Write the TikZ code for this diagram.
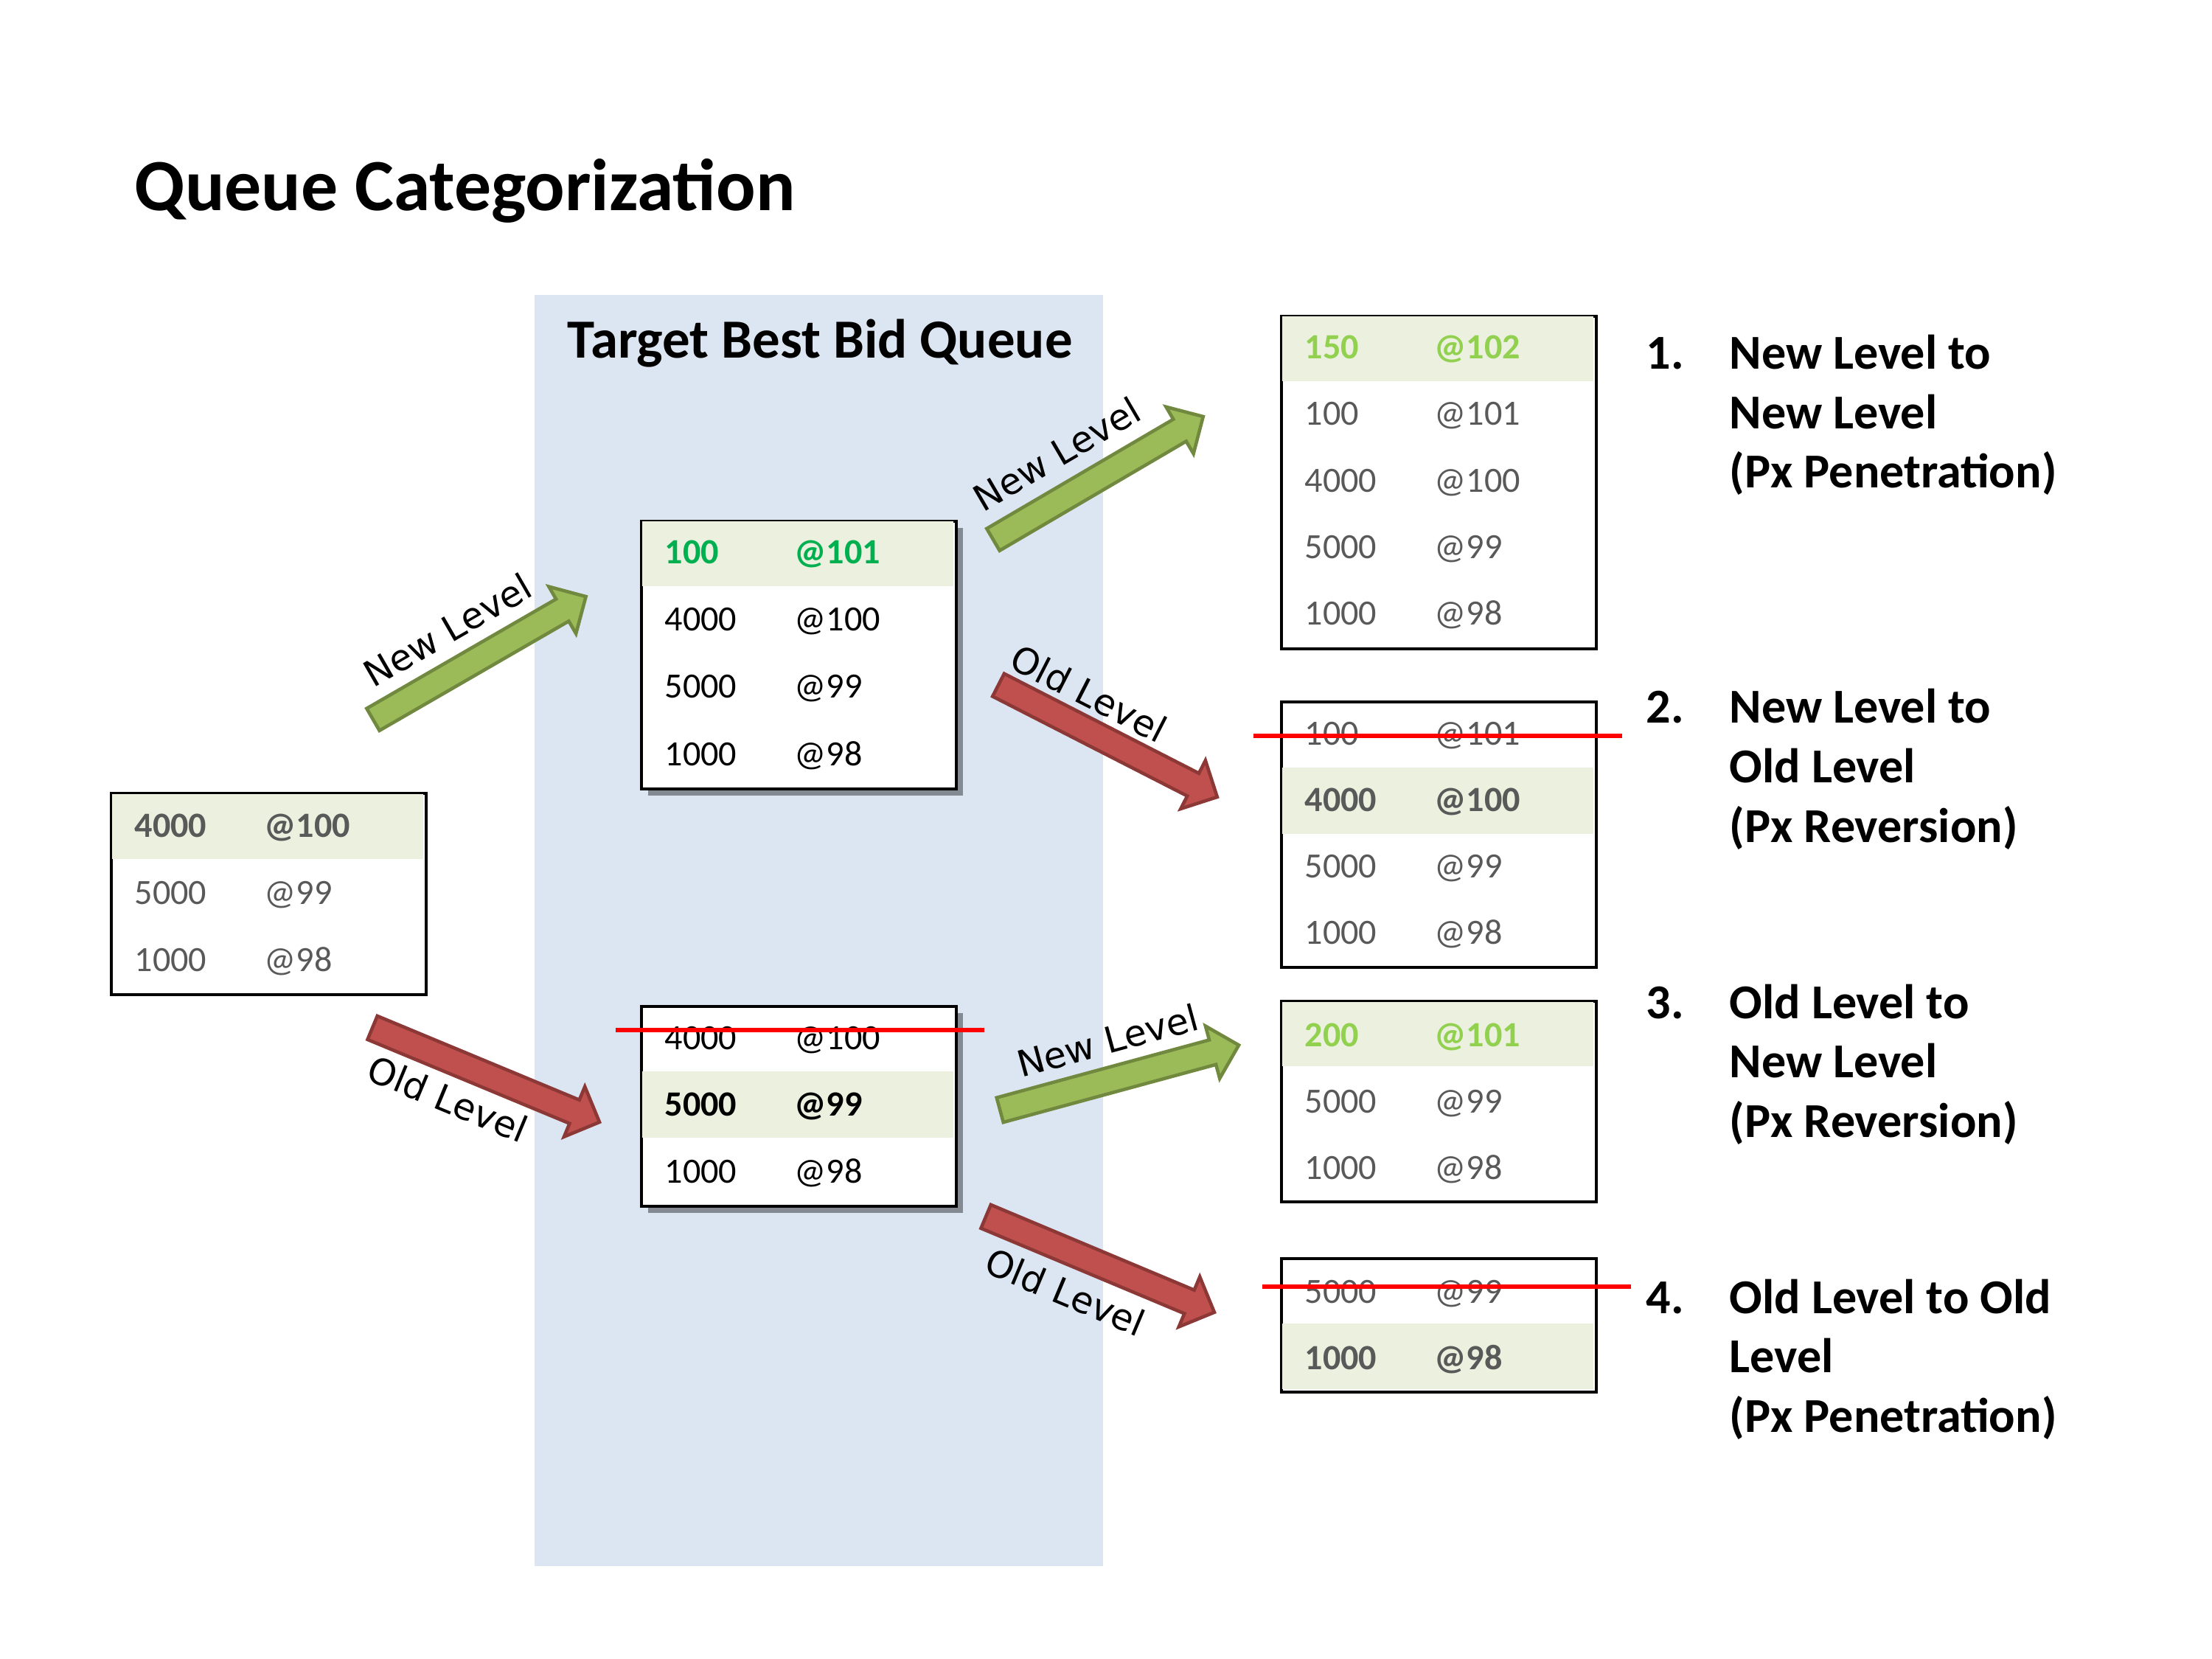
\documentclass[tikz,border=0pt]{standalone}
\usepackage{fontspec}
\setmainfont{Carlito}
\newfontfamily\arrowfont{DejaVu Sans}
\usetikzlibrary{calc,shapes.arrows,shadows}

\definecolor{bandblue}{HTML}{DCE6F2}
\definecolor{rowfill}{HTML}{EBF1DE}
\definecolor{txtgrey}{HTML}{595959}
\definecolor{newgreen}{HTML}{00B050}
\definecolor{pxgreen}{HTML}{92D050}
\definecolor{greenfill}{HTML}{9BBB59}
\definecolor{greenline}{HTML}{71893F}
\definecolor{redfill}{HTML}{C0504D}
\definecolor{redline}{HTML}{8C3836}

\tikzset{
  qbox/.style={draw=black, line width=1.2pt, fill=white, inner sep=0pt, minimum width=4.27cm, anchor=north west},
  qshadow/.style={drop shadow={shadow xshift=0.09cm, shadow yshift=-0.09cm, fill=black, opacity=0.4}},
  hirow/.style={fill=rowfill},
  qnum/.style={anchor=base west, inner sep=0pt, font=\fontsize{13.7}{16}\selectfont},
  qarrow/.style={single arrow, single arrow head extend=0.195cm, minimum width=0.69cm, inner xsep=0pt, inner ysep=0.15cm, line width=1.3pt, anchor=tail},
  arrlbl/.style={inner sep=0pt, font=\arrowfont\fontsize{14}{16}\selectfont, sloped},
  strike/.style={draw=red, line width=1.8pt},
  casetxt/.style={anchor=base west, inner sep=0pt, font=\fontsize{18.8}{22.9}\selectfont\bfseries}
}

\begin{document}
\begin{tikzpicture}[x=1cm, y=-1cm]
  \useasboundingbox (0,0) rectangle (30,22.5);
  \fill[bandblue] (7.25,4.00) rectangle (14.96,21.24);
  \node[anchor=base west, inner sep=0pt, font=\fontsize{28.4}{34}\selectfont\bfseries] (title) at (1.82,2.86) {Queue Categorization};
  \node[anchor=base west, inner sep=0pt, font=\fontsize{21.3}{25}\selectfont\bfseries] (target) at (7.69,4.86) {Target Best Bid Queue};
  %
  % arrow ends
  \coordinate (nl1s) at (5.04,9.77);   \coordinate (nl1e) at (7.93,8.10);
  \coordinate (ol1s) at (5.03,13.93);  \coordinate (ol1e) at (8.11,15.21);
  \coordinate (nl2s) at (13.45,7.33);  \coordinate (nl2e) at (16.30,5.66);
  \coordinate (ol2s) at (13.52,9.28);  \coordinate (ol2e) at (16.49,10.80);
  \coordinate (nl3s) at (13.54,15.06); \coordinate (nl3e) at (16.78,14.18);
  \coordinate (ol3s) at (13.35,16.49); \coordinate (ol3e) at (16.45,17.79);
  \foreach \a/\f/\d in {nl1/greenfill/greenline, ol1/redfill/redline, nl2/greenfill/greenline,
                        ol2/redfill/redline, nl3/greenfill/greenline, ol3/redfill/redline}
    \path let \p1=($(\a e)-(\a s)$), \n1={veclen(\x1,\y1)}, \n2={atan2(\y1,\x1)} in
      node[qarrow, fill=\f, draw=\d, minimum height=\n1, rotate=\n2] (\a) at (\a s) {};
  \path (nl1s) -- (nl1e) node[arrlbl, pos=0.45, above=0.35cm] (nl1t) {New Level};
  \path (nl2s) -- (nl2e) node[arrlbl, pos=0.41, above=0.37cm] (nl2t) {New Level};
  \path (nl3s) -- (nl3e) node[arrlbl, pos=0.50, above=0.33cm] (nl3t) {New Level};
  \path (ol1s) -- (ol1e) node[arrlbl, pos=0.40, below=0.30cm] (ol1t) {Old Level};
  \path (ol2s) -- (ol2e) node[arrlbl, pos=0.35, above=0.26cm] (ol2t) {Old Level};
  \path (ol3s) -- (ol3e) node[arrlbl, pos=0.42, below=0.33cm] (ol3t) {Old Level};
  %
  % start queue
  \node[qbox, minimum height=2.73cm] (lq) at (1.49,10.74) {};
  \fill[hirow] (1.515,10.765) rectangle (5.735,11.65);
  \node[qnum, txtgrey] (lq1a) at (1.82,11.35) {\textbf{4000}};
  \node[qnum, txtgrey] (lq1b) at (3.58,11.35) {\textbf{@100}};
  \node[qnum, txtgrey] (lq2a) at (1.82,12.26) {5000};
  \node[qnum, txtgrey] (lq2b) at (3.58,12.26) {@99};
  \node[qnum, txtgrey] (lq3a) at (1.82,13.17) {1000};
  \node[qnum, txtgrey] (lq3b) at (3.58,13.17) {@98};
  %
  % target queue, new level
  \node[qbox, qshadow, minimum height=3.63cm] (tq) at (8.68,7.05) {};
  \fill[hirow] (8.705,7.075) rectangle (12.925,7.95);
  \node[qnum, newgreen] (tq1a) at (9.01,7.65) {\textbf{100}};
  \node[qnum, newgreen] (tq1b) at (10.77,7.65) {\textbf{@101}};
  \node[qnum] (tq2a) at (9.01,8.56) {4000};
  \node[qnum] (tq2b) at (10.77,8.56) {@100};
  \node[qnum] (tq3a) at (9.01,9.47) {5000};
  \node[qnum] (tq3b) at (10.77,9.47) {@99};
  \node[qnum] (tq4a) at (9.01,10.38) {1000};
  \node[qnum] (tq4b) at (10.77,10.38) {@98};
  %
  % target queue, old level
  \node[qbox, qshadow, minimum height=2.71cm] (bq) at (8.68,13.63) {};
  \fill[hirow] (8.705,14.53) rectangle (12.925,15.43);
  \node[qnum] (bq1a) at (9.01,14.23) {4000};
  \node[qnum] (bq1b) at (10.77,14.23) {@100};
  \node[qnum] (bq2a) at (9.01,15.13) {\textbf{5000}};
  \node[qnum] (bq2b) at (10.77,15.13) {\textbf{@99}};
  \node[qnum] (bq3a) at (9.01,16.04) {1000};
  \node[qnum] (bq3b) at (10.77,16.04) {@98};
  \draw[strike] (8.35,13.97) -- (13.35,13.97);
  %
  % case 1
  \node[qbox, minimum height=4.51cm] (pq1) at (17.36,4.27) {};
  \fill[hirow] (17.385,4.295) rectangle (21.605,5.17);
  \node[qnum, pxgreen] (pq11a) at (17.69,4.87) {\textbf{150}};
  \node[qnum, pxgreen] (pq11b) at (19.45,4.87) {\textbf{@102}};
  \node[qnum, txtgrey] (pq12a) at (17.69,5.77) {100};
  \node[qnum, txtgrey] (pq12b) at (19.45,5.77) {@101};
  \node[qnum, txtgrey] (pq13a) at (17.69,6.68) {4000};
  \node[qnum, txtgrey] (pq13b) at (19.45,6.68) {@100};
  \node[qnum, txtgrey] (pq14a) at (17.69,7.58) {5000};
  \node[qnum, txtgrey] (pq14b) at (19.45,7.58) {@99};
  \node[qnum, txtgrey] (pq15a) at (17.69,8.48) {1000};
  \node[qnum, txtgrey] (pq15b) at (19.45,8.48) {@98};
  %
  % case 2
  \node[qbox, minimum height=3.60cm] (pq2) at (17.36,9.50) {};
  \fill[hirow] (17.385,10.41) rectangle (21.605,11.31);
  \node[qnum, txtgrey] (pq21a) at (17.69,10.10) {100};
  \node[qnum, txtgrey] (pq21b) at (19.45,10.10) {@101};
  \node[qnum, txtgrey] (pq22a) at (17.69,11.00) {\textbf{4000}};
  \node[qnum, txtgrey] (pq22b) at (19.45,11.00) {\textbf{@100}};
  \node[qnum, txtgrey] (pq23a) at (17.69,11.90) {5000};
  \node[qnum, txtgrey] (pq23b) at (19.45,11.90) {@99};
  \node[qnum, txtgrey] (pq24a) at (17.69,12.80) {1000};
  \node[qnum, txtgrey] (pq24b) at (19.45,12.80) {@98};
  \draw[strike] (17.00,9.98) -- (22.00,9.98);
  %
  % case 3
  \node[qbox, minimum height=2.72cm] (pq3) at (17.36,13.56) {};
  \fill[hirow] (17.385,13.585) rectangle (21.605,14.46);
  \node[qnum, pxgreen] (pq31a) at (17.69,14.19) {\textbf{200}};
  \node[qnum, pxgreen] (pq31b) at (19.45,14.19) {\textbf{@101}};
  \node[qnum, txtgrey] (pq32a) at (17.69,15.09) {5000};
  \node[qnum, txtgrey] (pq32b) at (19.45,15.09) {@99};
  \node[qnum, txtgrey] (pq33a) at (17.69,15.99) {1000};
  \node[qnum, txtgrey] (pq33b) at (19.45,15.99) {@98};
  %
  % case 4
  \node[qbox, minimum height=1.81cm] (pq4) at (17.36,17.05) {};
  \fill[hirow] (17.385,17.95) rectangle (21.605,18.835);
  \node[qnum, txtgrey] (pq41a) at (17.69,17.67) {5000};
  \node[qnum, txtgrey] (pq41b) at (19.45,17.67) {@99};
  \node[qnum, txtgrey] (pq42a) at (17.69,18.57) {\textbf{1000}};
  \node[qnum, txtgrey] (pq42b) at (19.45,18.57) {\textbf{@98}};
  \draw[strike] (17.12,17.45) -- (22.12,17.45);
  %
  % case texts
  \node[casetxt] (c1n) at (22.32,5.01) {1.};
  \node[casetxt] (c1a) at (23.45,5.01) {New Level to};
  \node[casetxt] (c1b) at (23.45,5.815) {New Level};
  \node[casetxt] (c1c) at (23.45,6.62) {(Px Penetration)};
  \node[casetxt] (c2n) at (22.32,9.81) {2.};
  \node[casetxt] (c2a) at (23.45,9.81) {New Level to};
  \node[casetxt] (c2b) at (23.45,10.615) {Old Level};
  \node[casetxt] (c2c) at (23.45,11.42) {(Px Reversion)};
  \node[casetxt] (c3n) at (22.32,13.81) {3.};
  \node[casetxt] (c3a) at (23.45,13.81) {Old Level to};
  \node[casetxt] (c3b) at (23.45,14.615) {New Level};
  \node[casetxt] (c3c) at (23.45,15.42) {(Px Reversion)};
  \node[casetxt] (c4n) at (22.32,17.81) {4.};
  \node[casetxt] (c4a) at (23.45,17.81) {Old Level to Old};
  \node[casetxt] (c4b) at (23.45,18.615) {Level};
  \node[casetxt] (c4c) at (23.45,19.42) {(Px Penetration)};
\end{tikzpicture}
\end{document}
